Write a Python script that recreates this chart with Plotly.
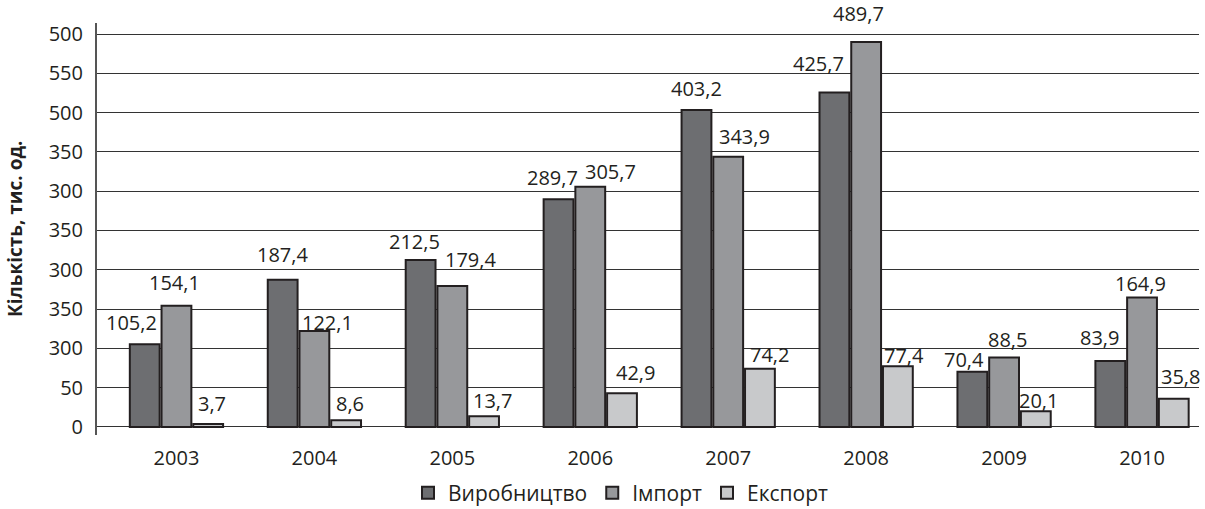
import plotly.graph_objects as go

# Data
years = ["2003", "2004", "2005", "2006", "2007", "2008", "2009", "2010"]
production = [105.2, 187.4, 212.5, 289.7, 403.2, 425.7, 70.4, 83.9]
imports = [154.1, 122.1, 179.4, 305.7, 343.9, 489.7, 88.5, 164.9]
exports = [3.7, 8.6, 13.7, 42.9, 74.2, 77.4, 20.1, 35.8]

series_names = ["Виробництво", "Імпорт", "Експорт"]
series_values = [production, imports, exports]

# y-axis tick positions and the labels printed at them
y_tick_vals = [0, 50, 100, 150, 200, 250, 300, 350, 400, 450, 500]
y_tick_text = ["0", "50", "300", "350", "300", "350", "300", "350", "500", "550", "500"]

# Styling
colors = ["#6d6e71", "#97989b", "#c8c9cb"]
outline = "#231f20"
font_family = "Open Sans, Noto Sans, sans-serif"
font_size = 20

# value-label nudges (px) per series / year: (dx, dy) with dy positive = up
label_shift = [
    [(-13, 22), (0, 25), (-6, 18), (-6, 22), (0, 22), (-16, 29), (-8, 12), (-11, 24)],
    [(-2, 23), (13, 9), (18, 26), (20, 15), (16, 20), (-8, 29), (3, 18), (-2, 14)],
    [(4, 21), (4, 17), (8, 16), (13, 21), (10, 14), (6, 11), (3, 11), (7, 22)],
]

x_pos = list(range(len(years)))
bar_offset = [-0.23, 0.0, 0.23]

fig = go.Figure()
for name, vals, col in zip(series_names, series_values, colors):
    fig.add_trace(go.Bar(
        x=x_pos, y=vals, name=name,
        marker=dict(color=col, line=dict(color=outline, width=2)),
        hoverinfo="skip",
    ))

annotations = []
for s, vals in enumerate(series_values):
    for i, v in enumerate(vals):
        dx, dy = label_shift[s][i]
        annotations.append(dict(
            x=i + bar_offset[s], y=v, xref="x", yref="y",
            text=f"{v:.1f}".replace(".", ","),
            showarrow=False, xanchor="center", yanchor="middle",
            xshift=dx, yshift=dy,
            font=dict(family=font_family, size=font_size, color=outline),
        ))

annotations.append(dict(
    x=0, y=0.5, xref="paper", yref="paper",
    text="<b>Кількість, тис. од.</b>", textangle=-90,
    showarrow=False, xanchor="center", yanchor="middle", xshift=-82,
    font=dict(family=font_family, size=19, color=outline),
))

fig.update_layout(
    width=1205, height=509,
    margin=dict(l=97, r=6, t=23, b=74, autoexpand=False),
    paper_bgcolor="white", plot_bgcolor="white",
    barmode="group", bargap=0.31, bargroupgap=0.06,
    font=dict(family=font_family, size=font_size, color=outline),
    showlegend=True,
    legend=dict(
        orientation="h", x=0.4755, xanchor="center", y=-0.141, yanchor="middle",
        font=dict(family=font_family, size=21, color=outline),
        itemwidth=30, traceorder="normal",
    ),
    annotations=annotations,
)
fig.update_xaxes(
    range=[-0.576, 7.413], tickvals=x_pos, ticktext=years,
    showgrid=False, zeroline=False, showline=False, ticks="",
    ticklabelstandoff=9,
    tickfont=dict(family=font_family, size=font_size, color=outline),
)
fig.update_yaxes(
    range=[-10.2, 514], tickvals=y_tick_vals, ticktext=y_tick_text,
    showgrid=True, gridcolor="#333333", gridwidth=1.3,
    zeroline=False, showline=True, linecolor="#555555", linewidth=2,
    ticks="", ticklabelstandoff=8,
    tickfont=dict(family=font_family, size=font_size, color=outline),
)

fig.write_html("out.html")
